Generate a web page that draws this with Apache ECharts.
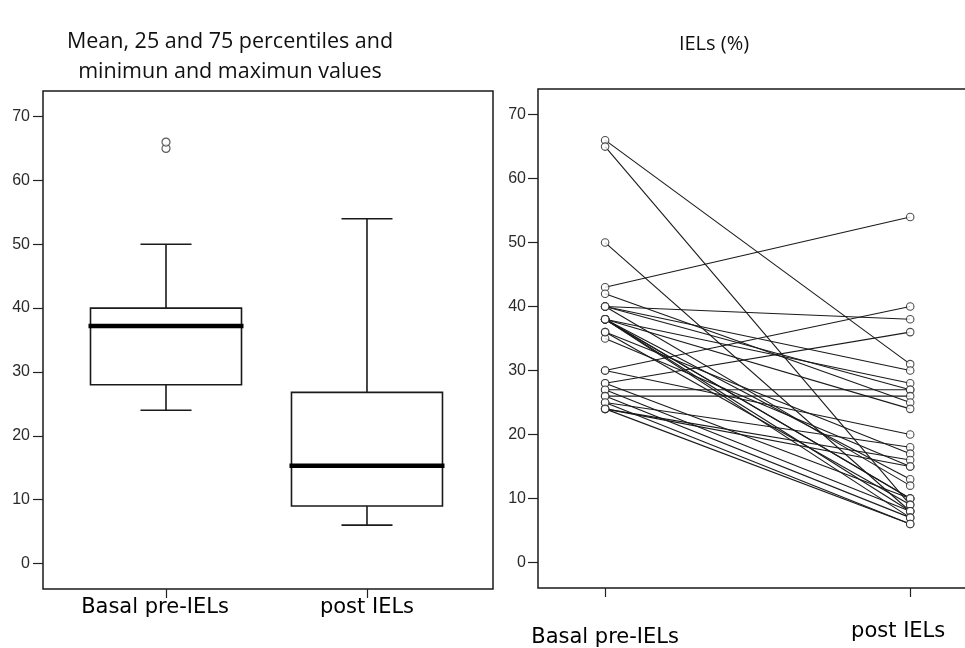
<!DOCTYPE html>
<html>
<head>
<meta charset="utf-8">
<script src="https://cdn.jsdelivr.net/npm/echarts@6/dist/echarts.min.js"></script>
<style>
html,body{margin:0;padding:0;background:#fff;}
#chart{width:965px;height:648px;}
</style>
</head>
<body>
<div id="chart"></div>
<script>
// ---- data ----
const categories = ['Basal pre-IELs', 'post IELs'];
const categoryPos = [1, 2];
const yTicks = [0, 10, 20, 30, 40, 50, 60, 70];
// box plot statistics
const boxMin = [24, 6];
const boxQ1 = [28, 9];
const boxMedian = [37.2, 15.3];
const boxQ3 = [40, 26.8];
const boxMax = [50, 54];
const basalOutliers = [65, 66];
// paired values (same patient, same index)
const basalIELs = [43, 30, 40, 28, 66, 40, 38, 40, 27, 26, 42, 38, 30, 25, 36, 24,
                   35, 24, 38, 40, 38, 38, 28, 65, 36, 50, 38, 27, 38, 26, 25, 24];
const postIELs  = [54, 40, 38, 36, 31, 30, 28, 27, 27, 26, 25, 24, 20, 18, 17, 16,
                   15, 15, 13, 12, 10, 10, 10, 9, 9, 8, 8, 8, 7, 7, 6, 6];

// ---- chart ----
const chart = echarts.init(document.getElementById('chart'), null, {renderer: 'canvas'});

const boxData = categoryPos.map((x, i) => [x, boxMin[i], boxQ1[i], boxMedian[i], boxQ3[i], boxMax[i]]);
const outlierData = basalOutliers.map(v => [categoryPos[0], v]);

const pairSeries = basalIELs.map((b, i) => ({
  type: 'line',
  xAxisIndex: 1, yAxisIndex: 1,
  data: [[categoryPos[0], b], [categoryPos[1], postIELs[i]]],
  symbol: 'none',
  silent: true,
  animation: false,
  lineStyle: {color: '#1a1a1a', width: 1.1}
}));

const pointData = [];
basalIELs.forEach((b, i) => {
  pointData.push([categoryPos[0], b]);
  pointData.push([categoryPos[1], postIELs[i]]);
});

const tickLabelStyle = {fontFamily: 'Liberation Sans', fontSize: 16, color: '#2a2a2a'};

function yAxis(gridIndex, margin) {
  return {
    type: 'value', gridIndex, min: -4, max: 74,
    axisLine: {show: false, onZero: false},
    splitLine: {show: false},
    axisTick: {show: true, customValues: yTicks, length: 10, lineStyle: {color: '#222', width: 1.2}},
    axisLabel: Object.assign({customValues: yTicks, margin: margin}, tickLabelStyle)
  };
}

const catLabel = {fontFamily: 'DejaVu Sans', fontSize: 21, color: '#000'};

const option = {
  backgroundColor: '#fff',
  animation: false,
  title: [
    {
      text: 'Mean, 25 and 75 percentiles and\nminimun and maximun values',
      left: 225, top: 22, textAlign: 'center',
      textStyle: {fontFamily: 'Open Sans', fontSize: 21.5, fontWeight: 'normal', color: '#111', lineHeight: 30}
    },
    {
      text: 'IELs (%)',
      left: 709, top: 24, textAlign: 'center',
      textStyle: {fontFamily: 'Open Sans', fontSize: 20, fontWeight: 'normal', color: '#111', lineHeight: 30}
    }
  ],
  grid: [
    {left: 43, top: 91, width: 450, height: 498, show: true, borderColor: '#1a1a1a', borderWidth: 1.5,
      backgroundColor: 'transparent', outerBoundsMode: 'none'},
    {left: 538, top: 89, width: 439, height: 499, show: true, borderColor: '#1a1a1a', borderWidth: 1.5,
      backgroundColor: 'transparent', outerBoundsMode: 'none'}
  ],
  xAxis: [
    {
      type: 'value', gridIndex: 0, min: 0.388, max: 2.627,
      axisLine: {show: false, onZero: false}, splitLine: {show: false},
      axisTick: {show: true, customValues: categoryPos, length: 9, lineStyle: {color: '#222', width: 1.2}},
      axisLabel: {
        customValues: categoryPos, margin: 8,
        formatter: v => v === 1 ? '{a|' + categories[0] + '}' : '{b|' + categories[1] + '}',
        rich: {
          a: Object.assign({padding: [0, 22, 0, 0]}, catLabel),
          b: Object.assign({padding: [0, 0, 0, 0]}, catLabel)
        }
      }
    },
    {
      type: 'value', gridIndex: 1, min: 0.78, max: 2.219,
      axisLine: {show: false, onZero: false}, splitLine: {show: false},
      axisTick: {show: true, customValues: categoryPos, length: 9, lineStyle: {color: '#222', width: 1.2}},
      axisLabel: {
        customValues: categoryPos, margin: 30,
        formatter: v => v === 1 ? '{a|' + categories[0] + '}' : '{b|' + categories[1] + '}',
        rich: {
          a: Object.assign({padding: [9, 0, 0, 0]}, catLabel),
          b: Object.assign({padding: [3, 24, 0, 0]}, catLabel)
        }
      }
    }
  ],
  yAxis: [yAxis(0, 13), yAxis(1, 12)],
  series: [
    {
      type: 'custom',
      xAxisIndex: 0, yAxisIndex: 0,
      data: boxData,
      silent: true,
      renderItem: function (params, api) {
        const x = api.value(0);
        const pMin = api.coord([x, api.value(1)]);
        const pQ1 = api.coord([x, api.value(2)]);
        const pMed = api.coord([x, api.value(3)]);
        const pQ3 = api.coord([x, api.value(4)]);
        const pMax = api.coord([x, api.value(5)]);
        const cx = pMed[0];
        const half = 75.5, cap = 25.5;
        const st = {stroke: '#1a1a1a', lineWidth: 1.6, fill: null};
        return {
          type: 'group',
          children: [
            {type: 'line', shape: {x1: cx, y1: pQ3[1], x2: cx, y2: pMax[1]}, style: st},
            {type: 'line', shape: {x1: cx, y1: pQ1[1], x2: cx, y2: pMin[1]}, style: st},
            {type: 'line', shape: {x1: cx - cap, y1: pMax[1], x2: cx + cap, y2: pMax[1]}, style: st},
            {type: 'line', shape: {x1: cx - cap, y1: pMin[1], x2: cx + cap, y2: pMin[1]}, style: st},
            {type: 'rect', shape: {x: cx - half, y: pQ3[1], width: half * 2, height: pQ1[1] - pQ3[1]},
              style: {stroke: '#1a1a1a', lineWidth: 1.6, fill: '#fff'}},
            {type: 'line', shape: {x1: cx - half - 2, y1: pMed[1], x2: cx + half + 2, y2: pMed[1]},
              style: {stroke: '#000', lineWidth: 4.5}}
          ]
        };
      }
    },
    {
      type: 'scatter', xAxisIndex: 0, yAxisIndex: 0,
      data: outlierData, symbol: 'circle', symbolSize: 8, silent: true,
      itemStyle: {color: '#fff', borderColor: '#333', borderWidth: 1.2}
    },
    ...pairSeries,
    {
      type: 'scatter', xAxisIndex: 1, yAxisIndex: 1,
      data: pointData, symbol: 'circle', symbolSize: 7.5, silent: true, z: 5,
      itemStyle: {color: '#fff', borderColor: '#222', borderWidth: 1.1}
    }
  ]
};

chart.setOption(option);
</script>
</body>
</html>
